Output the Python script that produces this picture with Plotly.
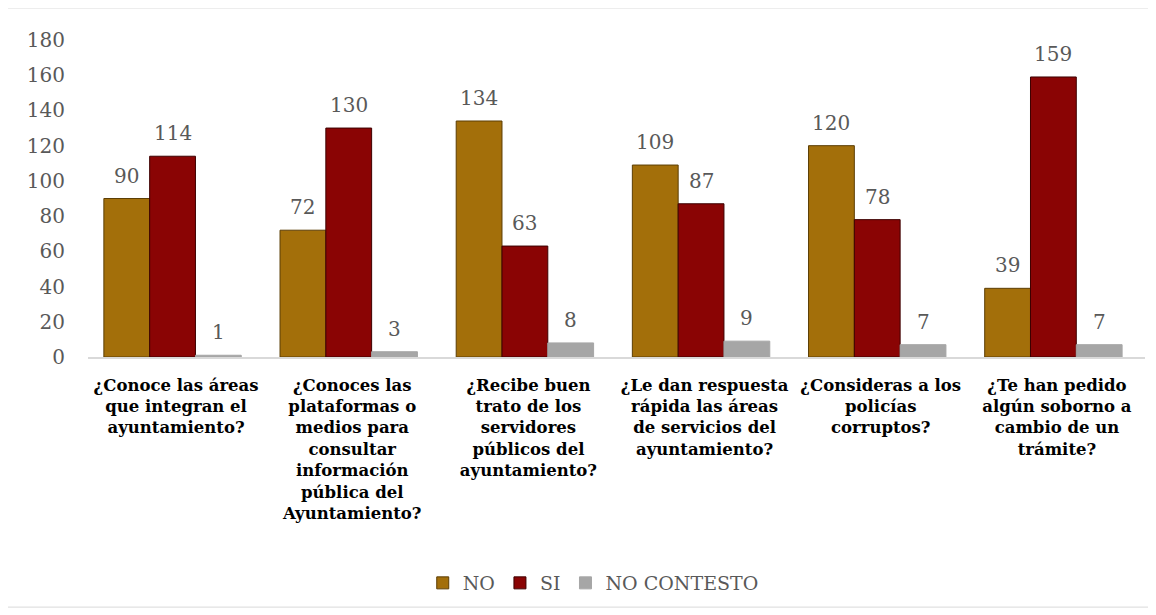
import plotly.graph_objects as go

# survey answers per question
preguntas = [
    "¿Conoce las áreas<br>que integran el<br>ayuntamiento?",
    "¿Conoces las<br>plataformas o<br>medios para<br>consultar<br>información<br>pública del<br>Ayuntamiento?",
    "¿Recibe buen<br>trato de los<br>servidores<br>públicos del<br>ayuntamiento?",
    "¿Le dan respuesta<br>rápida las áreas<br>de servicios del<br>ayuntamiento?",
    "¿Consideras a los<br>policías<br>corruptos?",
    "¿Te han pedido<br>algún soborno a<br>cambio de un<br>trámite?",
]
no_vals = [90, 72, 134, 109, 120, 39]
si_vals = [114, 130, 63, 87, 78, 159]
nc_vals = [1, 3, 8, 9, 7, 7]

series = [
    ("NO", no_vals, "#A36F0A", "#5C3E05"),
    ("SI", si_vals, "#8A0404", "#3D0000"),
    ("NO CONTESTO", nc_vals, "#A6A6A6", "#A6A6A6"),
]

bar_w = 0.26
offsets = [-0.41, -0.15, 0.11]

fig = go.Figure()
for (name, vals, col, edge), off in zip(series, offsets):
    fig.add_trace(go.Bar(
        x=preguntas,
        y=vals,
        name=name,
        width=bar_w,
        offset=off,
        marker=dict(color=col, line=dict(color=edge, width=1)),
    ))
    # value labels above each bar
    for i, v in enumerate(vals):
        fig.add_annotation(
            x=i + off + bar_w / 2, y=v, xref="x", yref="y",
            text=str(v), showarrow=False, yshift=23,
            font=dict(family="DejaVu Serif", size=20, color="#595959"),
        )

fig.update_layout(
    width=1156,
    height=615,
    barmode="group",
    plot_bgcolor="white",
    paper_bgcolor="white",
    margin=dict(l=80, r=19, t=32, b=266),
    font=dict(family="DejaVu Serif", color="#595959"),
    legend=dict(
        orientation="h",
        x=0.478, xanchor="center",
        y=-0.713, yanchor="middle",
        font=dict(family="DejaVu Serif", size=19, color="#595959"),
        traceorder="normal",
    ),
    showlegend=True,
)
fig.update_yaxes(
    range=[0, 180], dtick=20, showgrid=False, zeroline=False,
    showline=False, ticks="", ticklabelstandoff=22,
    tickfont=dict(family="DejaVu Serif", size=20, color="#595959"),
)
fig.update_xaxes(
    showline=True, linecolor="#D9D9D9", linewidth=1.5, ticks="",
    tickangle=0, ticklabelstandoff=12,
    tickfont=dict(family="DejaVu Serif", size=16.5, color="black", weight="bold"),
)

# chart frame
fig.add_shape(type="rect", xref="paper", yref="paper",
              x0=-0.0766, x1=1.0047, y0=-0.789, y1=1.101,
              line=dict(color="#D9D9D9", width=1))

fig.write_html("out.html")
